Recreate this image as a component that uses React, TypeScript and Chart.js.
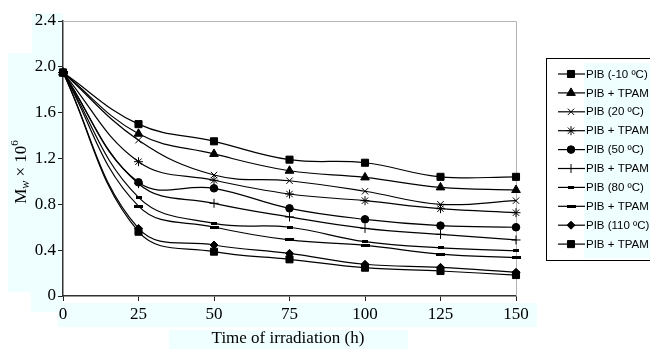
import React, { useEffect, useRef } from "react";
import { Chart, registerables } from "chart.js";
import { drawPoint } from "chart.js/helpers";

Chart.register(...registerables);

// Irradiation times (h)
const hours = [0, 25, 50, 75, 100, 125, 150];

// Weight-average molecular weight, Mw × 10^6
const pibM10 = [1.95, 1.5, 1.35, 1.19, 1.163, 1.04, 1.04];
const tpamM10 = [1.95, 1.416, 1.24, 1.093, 1.035, 0.948, 0.925];
const pib20 = [1.95, 1.36, 1.056, 1.006, 0.914, 0.8, 0.832];
const tpam20 = [1.95, 1.172, 1.01, 0.89, 0.832, 0.762, 0.727];
const pib50 = [1.95, 0.992, 0.94, 0.765, 0.669, 0.614, 0.6];
const tpam50 = [1.95, 0.98, 0.809, 0.69, 0.59, 0.538, 0.489];
const pib80 = [1.95, 0.861, 0.634, 0.6, 0.474, 0.42, 0.395];
const tpam80 = [1.95, 0.785, 0.602, 0.489, 0.442, 0.366, 0.334];
const pib110 = [1.95, 0.59, 0.445, 0.372, 0.277, 0.25, 0.207];
const tpam110 = [1.95, 0.561, 0.387, 0.32, 0.247, 0.218, 0.183];

const seriesLabels = [
  "PIB (-10 ºC)",
  "PIB + TPAM",
  "PIB (20 ºC)",
  "PIB + TPAM",
  "PIB (50 ºC)",
  "PIB + TPAM",
  "PIB (80 ºC)",
  "PIB + TPAM",
  "PIB (110 ºC)",
  "PIB + TPAM",
];

const yTicks = [0, 0.4, 0.8, 1.2, 1.6, 2.0, 2.4];
const xTicks = [0, 25, 50, 75, 100, 125, 150];

const SERIF = "'Liberation Serif', 'Times New Roman', serif";
const SANS = "'Liberation Sans', Arial, sans-serif";
const TINT = "#effefe";

function dashMarker(w: number, h: number): HTMLCanvasElement {
  const c = document.createElement("canvas");
  c.width = w;
  c.height = h;
  const g = c.getContext("2d")!;
  g.fillStyle = "#000";
  g.fillRect(0, 0, w, h);
  return c;
}

export default function App() {
  const ref = useRef<HTMLCanvasElement | null>(null);

  useEffect(() => {
    document.body.style.margin = "0";
    const canvas = ref.current!;
    const smallDash = dashMarker(6, 3);
    const wideDash = dashMarker(9, 3);

    const values = [pibM10, tpamM10, pib20, tpam20, pib50, tpam50, pib80, tpam80, pib110, tpam110];
    const markers: { style: any; radius: number }[] = [
      { style: "rect", radius: 5 },
      { style: "triangle", radius: 5 },
      { style: "crossRot", radius: 4.5 },
      { style: "star", radius: 4.5 },
      { style: "circle", radius: 3.8 },
      { style: "cross", radius: 4.5 },
      { style: smallDash, radius: 4 },
      { style: wideDash, radius: 4 },
      { style: "rectRot", radius: 4 },
      { style: "rect", radius: 5 },
    ];

    const decorations = {
      id: "decorations",
      beforeDraw(chart: any) {
        const ctx = chart.ctx;
        ctx.save();
        ctx.fillStyle = TINT;
        ctx.fillRect(32, 13, 31, 40);
        ctx.fillRect(8, 53, 55, 239);
        ctx.fillRect(31, 292, 32, 20);
        ctx.fillRect(58, 303, 479, 24);
        ctx.fillRect(169, 330, 239, 19);
        ctx.restore();
      },
      beforeDatasetsDraw(chart: any) {
        const { ctx, chartArea } = chart;
        ctx.save();
        ctx.strokeStyle = "#b4b4b4";
        ctx.lineWidth = 1;
        ctx.beginPath();
        ctx.moveTo(chartArea.left, chartArea.top + 0.5);
        ctx.lineTo(chartArea.right + 0.5, chartArea.top + 0.5);
        ctx.lineTo(chartArea.right + 0.5, chartArea.bottom);
        ctx.stroke();
        ctx.restore();
      },
      afterDraw(chart: any) {
        const ctx = chart.ctx;
        ctx.save();
        // axis titles
        ctx.fillStyle = "#000";
        ctx.textAlign = "center";
        ctx.textBaseline = "middle";
        ctx.font = `17px ${SERIF}`;
        ctx.fillText("Time of irradiation (h)", 288, 339);

        ctx.translate(20, 172);
        ctx.rotate(-Math.PI / 2);
        ctx.textAlign = "left";
        ctx.textBaseline = "alphabetic";
        const parts = [
          { t: "M", f: `17px ${SERIF}`, dy: 6 },
          { t: "w", f: `italic 12px ${SERIF}`, dy: 9 },
          { t: " × 10", f: `17px ${SERIF}`, dy: 6 },
          { t: "6", f: `11px ${SERIF}`, dy: -2 },
        ];
        let total = 0;
        for (const p of parts) {
          ctx.font = p.f;
          total += ctx.measureText(p.t).width;
        }
        let x = -total / 2;
        for (const p of parts) {
          ctx.font = p.f;
          ctx.fillText(p.t, x, p.dy);
          x += ctx.measureText(p.t).width;
        }
        ctx.restore();

        // legend
        ctx.save();
        ctx.fillStyle = "#fff";
        ctx.fillRect(546, 58, 110, 202);
        ctx.fillStyle = TINT;
        ctx.fillRect(584, 63, 70, 195);
        ctx.strokeStyle = "#000";
        ctx.lineWidth = 1;
        ctx.strokeRect(546.5, 58.5, 110, 202);
        ctx.font = `11.5px ${SANS}`;
        ctx.textBaseline = "middle";
        ctx.textAlign = "left";
        seriesLabels.forEach((label, i) => {
          const y = 74 + i * 18.9;
          ctx.strokeStyle = "#000";
          ctx.lineWidth = 1.2;
          ctx.beginPath();
          ctx.moveTo(558, y);
          ctx.lineTo(585, y);
          ctx.stroke();
          ctx.fillStyle = "#000";
          ctx.lineWidth = 1;
          drawPoint(ctx, { pointStyle: markers[i].style, radius: markers[i].radius, rotation: 0, borderWidth: 1 } as any, 571, y);
          ctx.fillStyle = "#000";
          ctx.fillText(label, 586, y + 0.5);
        });
        ctx.restore();
      },
    };

    const chart = new Chart(canvas, {
      type: "line",
      data: {
        labels: hours,
        datasets: values.map((v, i) => ({
          label: seriesLabels[i],
          data: v.map((y, j) => ({ x: hours[j], y })),
          borderColor: "#000",
          borderWidth: 1.2,
          backgroundColor: "#000",
          pointStyle: markers[i].style,
          pointRadius: markers[i].radius,
          pointBackgroundColor: "#000",
          pointBorderColor: "#000",
          pointBorderWidth: 1,
          tension: 0.4,
          fill: false,
          clip: false as any,
        })),
      },
      plugins: [decorations],
      options: {
        animation: false,
        responsive: false,
        devicePixelRatio: 1,
        layout: { padding: { left: 0, right: 134, top: 21, bottom: 0 } },
        plugins: { legend: { display: false }, tooltip: { enabled: false } },
        scales: {
          x: {
            type: "linear",
            min: 0,
            max: 150,
            afterFit(scale: any) {
              scale.height = 53;
            },
            afterBuildTicks(scale: any) {
              scale.ticks = xTicks.map((value) => ({ value }));
            },
            grid: { drawOnChartArea: false, drawTicks: true, tickLength: 5, color: "#222", lineWidth: 1 },
            border: { display: true, color: "#333", width: 1.5 },
            ticks: { font: { family: SERIF, size: 17 }, color: "#000", padding: 3, maxRotation: 0 },
          },
          y: {
            type: "linear",
            min: 0,
            max: 2.4,
            afterFit(scale: any) {
              scale.width = 63;
            },
            afterBuildTicks(scale: any) {
              scale.ticks = yTicks.map((value) => ({ value }));
            },
            grid: { drawOnChartArea: false, drawTicks: true, tickLength: 5, color: "#222", lineWidth: 1 },
            border: { display: true, color: "#333", width: 1.5 },
            ticks: {
              font: { family: SERIF, size: 17 },
              color: "#000",
              padding: 2,
              callback: (v: any) => (Number(v) === 0 ? "0" : Number(v).toFixed(1)),
            },
          },
        },
      },
    });

    return () => chart.destroy();
  }, []);

  return <canvas ref={ref} width={650} height={349} style={{ display: "block" }} />;
}
